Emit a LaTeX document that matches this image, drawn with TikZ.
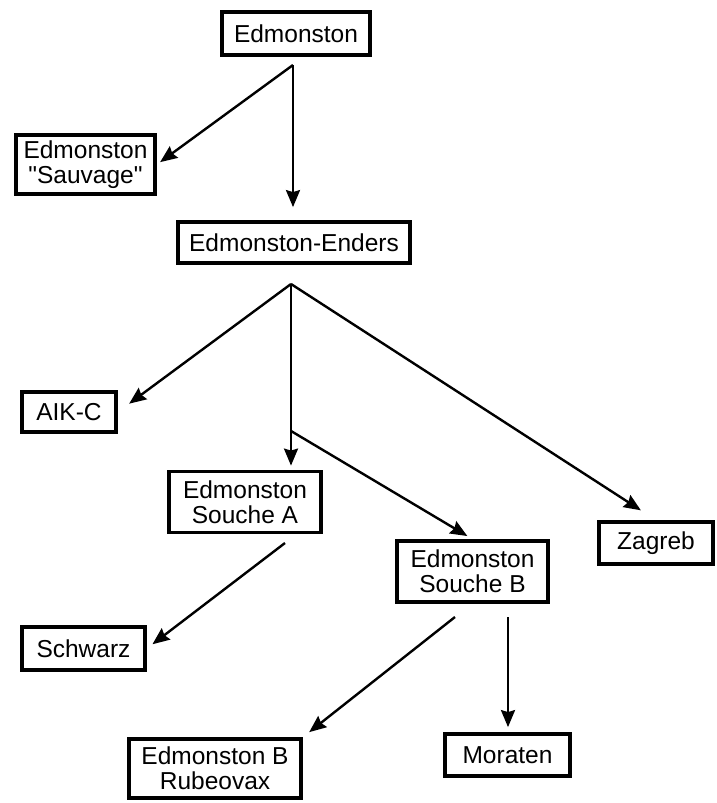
\documentclass[tikz,border=0pt]{standalone}
\usepackage{fontspec}
\setmainfont{Liberation Sans}[Ligatures=TeXOff]
\usetikzlibrary{arrows.meta}
\begin{document}
\begin{tikzpicture}[x=1pt,y=-1pt,
  box/.style={draw,line width=3.8pt,align=center,inner sep=0pt,
    font=\fontsize{24.5}{25}\selectfont},
  arr/.style={line width=2.4pt,-{Stealth[length=17pt,width=14pt,inset=2pt]}}]
\useasboundingbox[fill=white] (0,0) rectangle (717,803);
\node[box,minimum width=148,minimum height=43] (ed) at (296,33.5) {Edmonston};
\node[box,minimum width=139,minimum height=59] (sv) at (85.5,164.5) {Edmonston\\"Sauvage"};
\node[box,minimum width=232,minimum height=41] (en) at (294,242.5) {Edmonston-Enders};
\node[box,minimum width=94,minimum height=40] (aik) at (69,412) {AIK-C};
\node[box,minimum width=152,minimum height=61] (sa) at (245,502) {Edmonston\\Souche A};
\node[box,minimum width=151,minimum height=61] (sb) at (472.5,571.5) {Edmonston\\Souche B};
\node[box,minimum width=114,minimum height=42] (zg) at (656,543) {Zagreb};
\node[box,minimum width=123,minimum height=43] (sw) at (83.5,648.5) {Schwarz};
\node[box,minimum width=172,minimum height=59] (rb) at (215,768.5) {Edmonston B\\Rubeovax};
\node[box,minimum width=125,minimum height=42] (mo) at (507.5,755) {Moraten};

\coordinate (j1) at (293,65);
\coordinate (j2) at (291,284);
\coordinate (j3) at (291,431);
\coordinate (a1) at (285,543);
\coordinate (b1) at (455,617);
\coordinate (m1) at (508,617);

\draw[arr,shorten >=4pt] (j1) -- (sv.east);
\draw[arr,shorten >=13pt] (j1) -- (j1 |- en.north);
\draw[arr,shorten >=14pt] (j2) -- (aik.east);
\draw[arr,shorten >=4pt] (j2) -- (j2 |- sa.north);
\draw[arr,shorten >=6pt] (j3) -- (sb.north);
\draw[arr,shorten >=18pt] (j2) -- (zg.north);
\draw[arr,shorten >=7pt] (a1) -- (sw.east);
\draw[arr,shorten >=8pt] (b1) -- (rb.north east);
\draw[arr,shorten >=5pt] (m1) -- (m1 |- mo.north);
\end{tikzpicture}
\end{document}
